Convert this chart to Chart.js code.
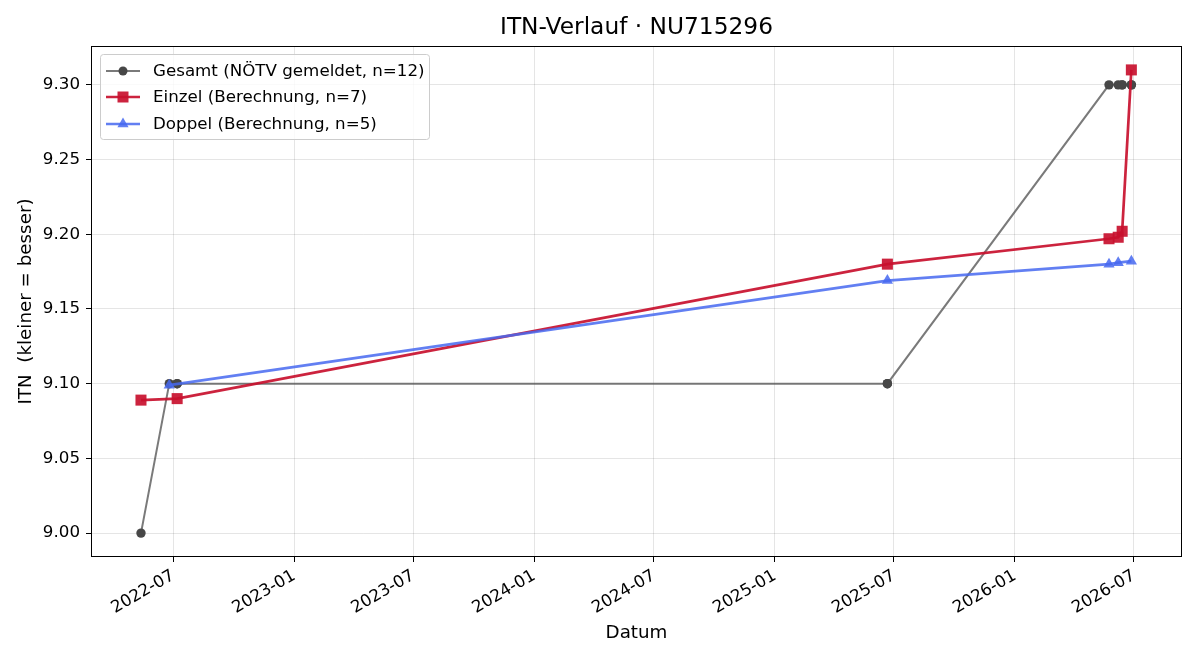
<!DOCTYPE html>
<html>
<head>
<meta charset="utf-8">
<script src="https://cdn.jsdelivr.net/npm/chart.js@4"></script>
<style>
  html, body { margin: 0; padding: 0; background: #fff; }
  #c { display: block; }
</style>
</head>
<body>
<canvas id="c" width="1200" height="660"></canvas>
<script>
// --- data ---
const gesamtDates = ["2022-05-13", "2022-06-25", "2022-07-07", "2022-07-07", "2025-06-21", "2025-06-21",
                     "2026-05-24", "2026-06-07", "2026-06-13", "2026-06-13", "2026-06-27", "2026-06-27"];
const gesamtValues = [9.00, 9.10, 9.10, 9.10, 9.10, 9.10, 9.30, 9.30, 9.30, 9.30, 9.30, 9.30];

const einzelDates = ["2022-05-13", "2022-07-07", "2025-06-21", "2026-05-24", "2026-06-07", "2026-06-13", "2026-06-27"];
const einzelValues = [9.089, 9.090, 9.180, 9.197, 9.198, 9.202, 9.310];

const doppelDates = ["2022-06-25", "2025-06-21", "2026-05-24", "2026-06-07", "2026-06-27"];
const doppelValues = [9.099, 9.169, 9.180, 9.181, 9.182];

const xTickLabels = ["2022-07", "2023-01", "2023-07", "2024-01", "2024-07", "2025-01", "2025-07", "2026-01", "2026-07"];
const yTickValues = [9.00, 9.05, 9.10, 9.15, 9.20, 9.25, 9.30];

const seriesLabels = ["Gesamt (NÖTV gemeldet, n=12)", "Einzel (Berechnung, n=7)", "Doppel (Berechnung, n=5)"];

// helpers
const toMs = s => {
    const p = s.split("-").map(Number);
    return Date.UTC(p[0], p[1] - 1, p[2] || 1);
};
const pts = (dates, vals) => dates.map((d, i) => ({ x: toMs(d), y: vals[i] }));
const xTickMs = xTickLabels.map(toMs);

const FONT = "'DejaVu Sans', sans-serif";
const TICK_SIZE = 16.7;
const LABEL_SIZE = 18.3;
const TITLE_SIZE = 23.3;
const GRAY_LINE = "rgba(85,85,85,0.78)";
const GRAY_MARK = "#474747";
const RED = "rgba(200,16,46,0.92)";
const BLUE = "rgba(70,105,240,0.85)";

const PLOT = { left: 91, top: 46, right: 1182, bottom: 557 };

// frame, title and legend drawn on top
const decor = {
    id: "decor",
    afterDraw(chart) {
        const ctx = chart.ctx;
        const a = chart.chartArea;
        ctx.save();
        ctx.strokeStyle = "#000";
        ctx.lineWidth = 1;
        ctx.strokeRect(Math.round(a.left) + 0.5, Math.round(a.top) + 0.5,
            Math.round(a.right - a.left) - 1, Math.round(a.bottom - a.top) - 1);

        ctx.fillStyle = "#000";
        ctx.font = TITLE_SIZE + "px " + FONT;
        ctx.textAlign = "center";
        ctx.textBaseline = "middle";
        ctx.fillText("ITN-Verlauf · NU715296", (a.left + a.right) / 2, 28);

        // legend box
        const bx = 100.5, by = 54.5, bw = 329, bh = 85;
        ctx.fillStyle = "rgba(255,255,255,0.8)";
        ctx.strokeStyle = "#cccccc";
        ctx.beginPath();
        ctx.roundRect(bx, by, bw, bh, 3);
        ctx.fill();
        ctx.stroke();

        const rows = [71, 97, 124];
        const styles = [
            { line: GRAY_LINE, lw: 2, mark: "circle", fill: GRAY_MARK },
            { line: RED, lw: 2.7, mark: "rect", fill: RED },
            { line: BLUE, lw: 2.7, mark: "triangle", fill: BLUE }
        ];
        ctx.font = TICK_SIZE + "px " + FONT;
        ctx.textAlign = "left";
        rows.forEach((y, i) => {
            const s = styles[i];
            ctx.strokeStyle = s.line;
            ctx.lineWidth = s.lw;
            ctx.beginPath();
            ctx.moveTo(106, y);
            ctx.lineTo(140, y);
            ctx.stroke();
            ctx.fillStyle = s.fill;
            ctx.beginPath();
            if (s.mark === "circle") {
                ctx.arc(123, y, 4.5, 0, Math.PI * 2);
            } else if (s.mark === "rect") {
                ctx.rect(117.5, y - 5.5, 11, 11);
            } else {
                ctx.moveTo(123, y - 6.5);
                ctx.lineTo(128.6, y + 3.3);
                ctx.lineTo(117.4, y + 3.3);
                ctx.closePath();
            }
            ctx.fill();
            ctx.fillStyle = "#000";
            ctx.fillText(seriesLabels[i], 153, y + 1);
        });
        ctx.restore();
    }
};

new Chart(document.getElementById("c"), {
    type: "line",
    data: {
        datasets: [
            {
                label: seriesLabels[0],
                data: pts(gesamtDates, gesamtValues),
                borderColor: GRAY_LINE,
                borderWidth: 2,
                pointStyle: "circle",
                pointRadius: 4.7,
                pointBackgroundColor: GRAY_MARK,
                pointBorderWidth: 0,
                order: 3
            },
            {
                label: seriesLabels[1],
                data: pts(einzelDates, einzelValues),
                borderColor: RED,
                borderWidth: 2.7,
                pointStyle: "rect",
                pointRadius: 7.8,
                pointBackgroundColor: RED,
                pointBorderWidth: 0,
                order: 2
            },
            {
                label: seriesLabels[2],
                data: pts(doppelDates, doppelValues),
                borderColor: BLUE,
                borderWidth: 2.7,
                pointStyle: "triangle",
                pointRadius: 6.5,
                pointBackgroundColor: BLUE,
                pointBorderWidth: 0,
                order: 1
            }
        ]
    },
    options: {
        responsive: false,
        animation: false,
        layout: { padding: { left: 0, top: PLOT.top, right: 1200 - PLOT.right, bottom: 0 } },
        plugins: {
            legend: { display: false },
            title: { display: false },
            tooltip: { enabled: false }
        },
        elements: { line: { tension: 0 } },
        scales: {
            x: {
                type: "linear",
                min: toMs("2022-02-26"),
                max: toMs("2026-09-12"),
                afterBuildTicks: s => { s.ticks = xTickMs.map(v => ({ value: v })); },
                afterFit: s => { s.height = 660 - PLOT.bottom; },
                ticks: {
                    autoSkip: false,
                    minRotation: 30,
                    maxRotation: 30,
                    padding: 4,
                    color: "#000",
                    font: { family: FONT, size: TICK_SIZE },
                    callback: v => xTickLabels[xTickMs.indexOf(v)] || ""
                },
                grid: { color: "rgba(0,0,0,0.1)", tickColor: "#000", tickLength: 5 },
                border: { display: false },
                title: {
                    display: true,
                    text: "Datum",
                    color: "#000",
                    font: { family: FONT, size: LABEL_SIZE },
                    padding: { top: 0, bottom: 16 }
                }
            },
            y: {
                type: "linear",
                min: 8.984,
                max: 9.326,
                afterBuildTicks: s => { s.ticks = yTickValues.map(v => ({ value: v })); },
                afterFit: s => { s.width = PLOT.left; },
                ticks: {
                    padding: 6,
                    color: "#000",
                    font: { family: FONT, size: TICK_SIZE },
                    callback: v => v.toFixed(2)
                },
                grid: { color: "rgba(0,0,0,0.1)", tickColor: "#000", tickLength: 5 },
                border: { display: false },
                title: {
                    display: true,
                    text: "ITN  (kleiner = besser)",
                    color: "#000",
                    font: { family: FONT, size: LABEL_SIZE },
                    padding: { top: 15, bottom: 0 }
                }
            }
        }
    },
    plugins: [decor]
});
</script>
</body>
</html>
